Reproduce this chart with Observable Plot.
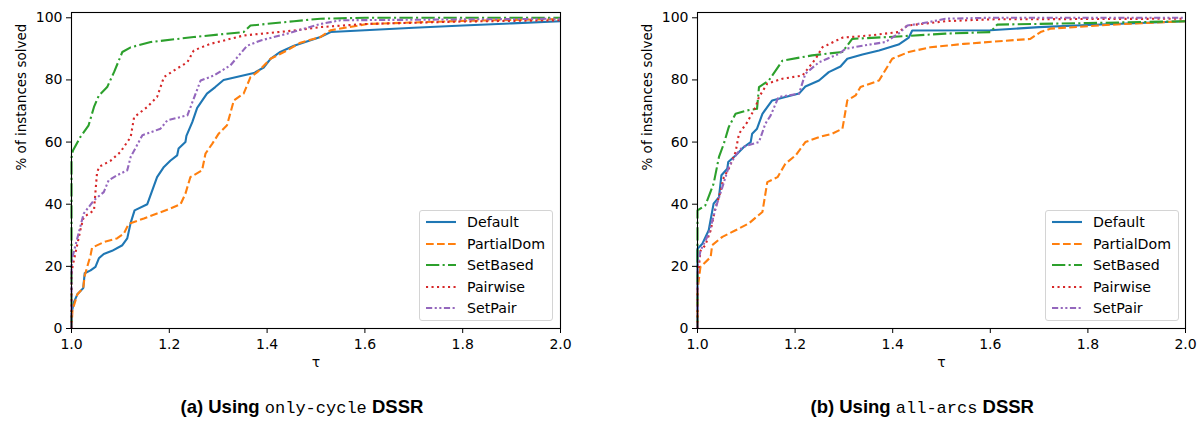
<!DOCTYPE html>
<html><head><meta charset="utf-8">
<script src="https://cdn.jsdelivr.net/npm/d3@7"></script>
<script src="https://cdn.jsdelivr.net/npm/@observablehq/plot@0.6"></script>
<style>
body{margin:0;background:#fff;width:1203px;height:421px;overflow:hidden;font-family:"DejaVu Sans",sans-serif;}
#wrap{position:relative;width:1203px;height:421px;}
.panel{position:absolute;top:0;}
.legend{position:absolute;border:1px solid #d4d4d4;border-radius:3px;background:rgba(255,255,255,0.85);font-family:"DejaVu Sans",sans-serif;font-size:14.2px;color:#000;box-sizing:border-box;}
.legend .row{position:absolute;left:0;height:20px;line-height:20px;white-space:nowrap;}
.legend svg{position:absolute;left:5px;top:0;}
.legend span{position:absolute;left:47px;top:0;}
.caption{position:absolute;top:396px;font-family:"Liberation Sans",Arial,sans-serif;font-weight:bold;font-size:18.5px;line-height:22px;text-align:center;color:#000;white-space:nowrap;}
.caption .m{font-family:"Liberation Mono","DejaVu Sans Mono",monospace;font-weight:normal;font-size:17px;}
</style></head><body>
<div id="wrap"></div>
<script>
// ---- data ----
const seriesNames = ["Default", "PartialDom", "SetBased", "Pairwise", "SetPair"];
const xTicks = [1.0, 1.2, 1.4, 1.6, 1.8, 2.0];
const yTicks = [0, 20, 40, 60, 80, 100];

// (a) only-cycle DSSR: [tau, % solved]
const aDefault = [[1,0],[1.0,5],[1.005,8.5],[1.012,11],[1.024,13],[1.027,17.8],[1.039,18.7],[1.049,19.8],[1.056,22.6],[1.066,24],[1.083,25],[1.104,26.8],[1.114,29],[1.121,34],[1.129,38],[1.155,40],[1.175,48.7],[1.189,52],[1.202,54],[1.216,55.7],[1.219,57.9],[1.233,60],[1.235,62],[1.247,66.4],[1.257,71],[1.277,75.6],[1.294,77.7],[1.311,80],[1.373,82.2],[1.393,84],[1.407,86.8],[1.427,89],[1.455,91],[1.509,93.8],[1.530,95.4],[1.6,96],[1.7,96.8],[1.8,97.5],[1.9,98.2],[2.0,98.9]];
const aPartialDom = [[1,0],[1.002,5.9],[1.012,11],[1.024,13],[1.027,17],[1.039,23.6],[1.042,26],[1.066,27.8],[1.093,29],[1.107,30.5],[1.117,33.7],[1.148,35.4],[1.175,37],[1.202,38.6],[1.223,40],[1.233,43.4],[1.243,48.7],[1.267,50.9],[1.274,56.3],[1.288,59.5],[1.301,62.7],[1.318,65.4],[1.332,73.4],[1.352,75.6],[1.366,80.9],[1.380,82.5],[1.407,86.8],[1.441,89.5],[1.468,92],[1.509,93.8],[1.530,96],[1.605,98],[1.8,99],[2.0,99.6]];
const aSetBased = [[1,0],[1.0,55],[1.003,57.3],[1.018,61.6],[1.035,65.4],[1.046,71.3],[1.056,75],[1.073,77.7],[1.087,82.5],[1.104,89],[1.121,90.5],[1.162,92.2],[1.25,93.8],[1.352,95.4],[1.366,97.5],[1.455,98.9],[1.509,99.7],[1.6,100],[2.0,100]];
const aPairwise = [[1,0],[1.0,17],[1.002,19.8],[1.018,31.6],[1.025,35.9],[1.046,38],[1.052,49.8],[1.056,52],[1.080,54],[1.100,56.8],[1.121,61.6],[1.128,68],[1.155,71.3],[1.175,74.5],[1.189,80.9],[1.209,83],[1.237,85.7],[1.250,89.5],[1.284,91.6],[1.352,94.3],[1.455,95.9],[1.509,97],[1.6,98],[1.8,98.8],[2.0,99.2]];
const aSetPair = [[1,0],[1.0,20],[1.002,23],[1.025,37],[1.046,41.3],[1.066,43.9],[1.076,47.7],[1.093,49.3],[1.114,50.9],[1.121,55.2],[1.145,62.2],[1.182,64.3],[1.196,67],[1.237,68.6],[1.264,79.8],[1.291,81.4],[1.325,84.7],[1.359,91],[1.387,92.7],[1.441,94.9],[1.509,98],[1.55,99.2],[2.0,99.7]];

// (b) all-arcs DSSR: [tau, % solved]
const bDefault = [[1,0],[1.0,25.7],[1.010,27.3],[1.023,31.6],[1.033,40.2],[1.044,42.3],[1.049,49.3],[1.061,51.4],[1.063,53.6],[1.078,55.7],[1.095,58.4],[1.109,60],[1.112,62.7],[1.122,64.3],[1.133,69.1],[1.153,73.4],[1.180,74.5],[1.208,75.6],[1.221,77.9],[1.249,79.8],[1.269,82.5],[1.293,84.3],[1.307,86.8],[1.338,88.2],[1.372,89.5],[1.412,91.4],[1.433,93.6],[1.440,95.9],[1.6,96],[1.7,97],[1.8,97.7],[2.0,98.9]];
const bPartialDom = [[1,0],[1.0,12.3],[1.006,19.8],[1.027,23],[1.030,26.8],[1.051,29.5],[1.078,31.6],[1.105,33.8],[1.133,37.5],[1.143,47.1],[1.164,48.7],[1.180,53],[1.201,55.7],[1.221,60],[1.249,61.6],[1.276,62.7],[1.297,64.3],[1.307,73.4],[1.324,75],[1.334,77.7],[1.372,79.8],[1.399,86.8],[1.433,89],[1.477,90.5],[1.546,91.6],[1.682,93.2],[1.703,95.4],[1.723,96.5],[1.85,97.8],[2.0,98.9]];
const bSetBased = [[1,0],[1.0,28],[1.0,38],[1.016,39.6],[1.033,46.6],[1.044,55.2],[1.054,59.5],[1.064,64.8],[1.078,69.1],[1.102,70.2],[1.122,70.7],[1.126,77.7],[1.146,79.8],[1.174,86.2],[1.235,87.9],[1.297,89],[1.317,93.2],[1.412,94],[1.508,94.9],[1.600,95.4],[1.614,97.8],[1.8,98.3],[2.0,98.9]];
const bPairwise = [[1,0],[1.0,15],[1.006,25],[1.016,26.8],[1.027,31.6],[1.037,39],[1.044,42.3],[1.054,48.7],[1.064,51.4],[1.078,56.8],[1.085,62.7],[1.102,66.4],[1.119,71.3],[1.126,74.5],[1.143,78.8],[1.174,80.4],[1.215,81.4],[1.242,86.8],[1.256,90.5],[1.297,93.6],[1.352,94.3],[1.412,95.4],[1.430,97.5],[1.508,98.9],[1.6,99.5],[2.0,99.7]];
const bSetPair = [[1,0],[1.0,19.8],[1.006,25],[1.023,30.5],[1.040,40.2],[1.051,45.5],[1.064,52],[1.078,55.7],[1.092,58.4],[1.126,60],[1.139,65.9],[1.150,68.6],[1.166,74.5],[1.208,75.6],[1.221,82],[1.249,85.7],[1.290,88.4],[1.303,90],[1.338,91],[1.385,92.2],[1.412,94.9],[1.430,97.5],[1.474,98.6],[1.508,99.7],[1.6,100],[2.0,100]];

// ---- styles ----
const colors = ["#1f77b4", "#ff7f0e", "#2ca02c", "#d62728", "#9467bd"];
const dashes = [null, "7.7,3.3", "13.3,3.3,2.1,3.3", "2.1,3.4", "6.2,2.5,2.1,2.5,2.1,2.5"];

function makePanel(seriesData, width, marginLeft, marginRight) {
  const fmt = d3.format(".1f");
  return Plot.plot({
    width, height: 375, marginLeft, marginRight, marginTop: 12, marginBottom: 47,
    style: {fontFamily: "DejaVu Sans, sans-serif", fontSize: "14px", color: "#000", background: "transparent", overflow: "visible"},
    x: {domain: [1, 2]},
    y: {domain: [0, 101.7]},
    marks: [
      ...seriesData.map((d, i) => Plot.line(d, {
        x: p => p[0], y: p => p[1], stroke: colors[i], strokeWidth: 2.1,
        strokeDasharray: dashes[i], strokeLinejoin: "round", strokeLinecap: "butt"
      })),
      Plot.frame({stroke: "#000", strokeWidth: 1.1}),
      Plot.axisX({ticks: xTicks, tickFormat: fmt, tickSize: 5, tickPadding: 6, label: null, stroke: "#000"}),
      Plot.axisY({ticks: yTicks, tickSize: 5, tickPadding: 4, label: null, stroke: "#000"}),
      Plot.text(["τ"], {frameAnchor: "bottom", dy: 38, fontSize: 14, fill: "#000"}),
      Plot.text(["% of instances solved"], {frameAnchor: "left", rotate: -90, dx: -50, fontSize: 13.5, fill: "#000"})
    ]
  });
}

function makeLegend(left, top) {
  const L = document.createElement("div");
  L.className = "legend";
  Object.assign(L.style, {left: left + "px", top: top + "px", width: "134px", height: "111px"});
  seriesNames.forEach((name, i) => {
    const row = document.createElement("div");
    row.className = "row";
    row.style.top = (1 + i * 21.5) + "px";
    row.style.width = "130px";
    const dash = dashes[i] ? `stroke-dasharray="${dashes[i]}"` : "";
    row.innerHTML = `<svg width="32" height="20"><line x1="1" x2="31" y1="10" y2="10" stroke="${colors[i]}" stroke-width="2.1" ${dash}/></svg><span>${name}</span>`;
    L.appendChild(row);
  });
  return L;
}

const wrap = document.getElementById("wrap");
const pa = document.createElement("div"); pa.className = "panel"; pa.style.left = "0px";
pa.appendChild(makePanel([aDefault, aPartialDom, aSetBased, aPairwise, aSetPair], 600, 71, 40));
wrap.appendChild(pa);
const pb = document.createElement("div"); pb.className = "panel"; pb.style.left = "600px";
pb.appendChild(makePanel([bDefault, bPartialDom, bSetBased, bPairwise, bSetPair], 603, 97, 18));
wrap.appendChild(pb);
wrap.appendChild(makeLegend(419, 210));
wrap.appendChild(makeLegend(1045, 210));

function caption(center, label, mono) {
  const c = document.createElement("div");
  c.className = "caption";
  c.innerHTML = `${label} Using <span class="m">${mono}</span> DSSR`;
  wrap.appendChild(c);
  c.style.left = (center - c.offsetWidth / 2) + "px";
}
caption(302, "(a)", "only-cycle");
caption(922, "(b)", "all-arcs");
</script>
</body></html>
